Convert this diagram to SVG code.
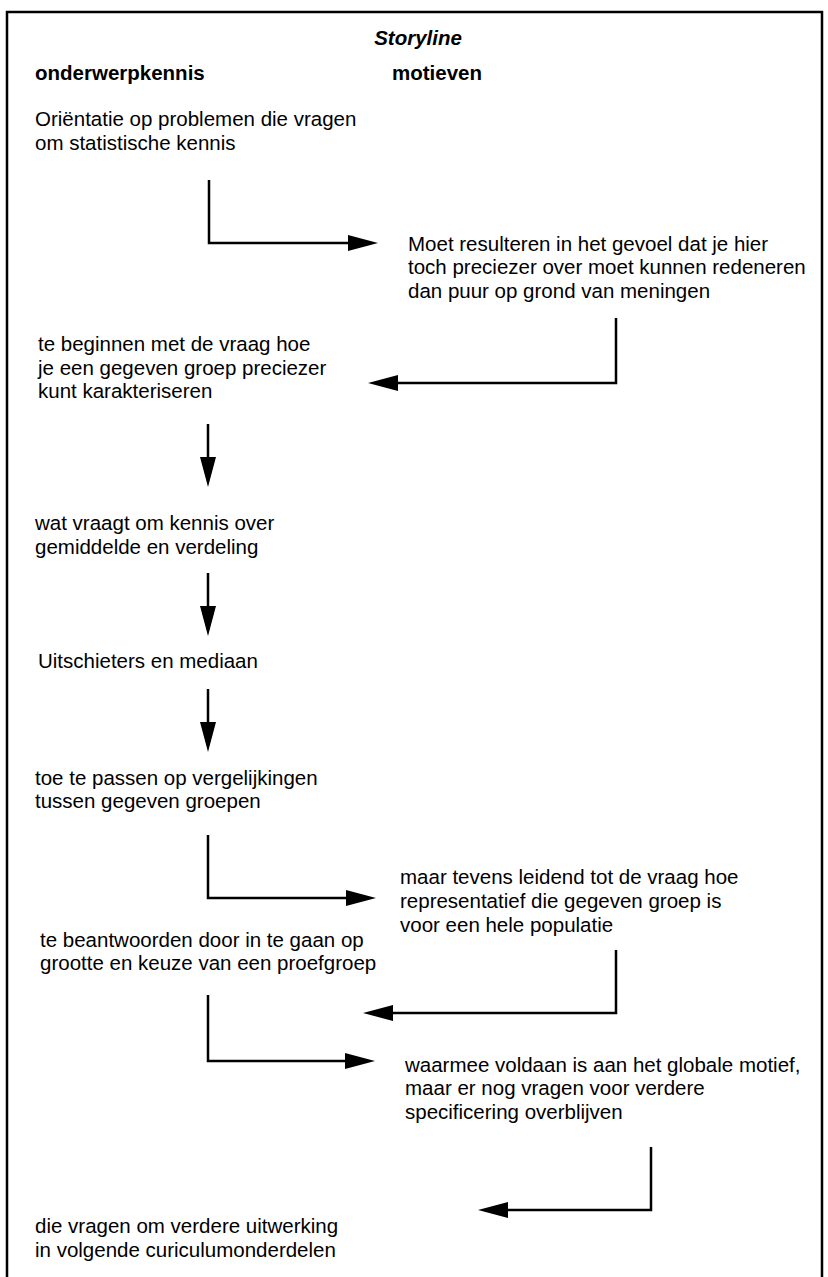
<svg xmlns="http://www.w3.org/2000/svg" width="828" height="1277" viewBox="0 0 828 1277">
<defs>
<style>
.t{font-family:"Liberation Sans",Arial,sans-serif;font-size:20.5px;fill:#000}
.h{font-family:"Liberation Sans",Arial,sans-serif;font-size:20.5px;font-weight:bold;fill:#000}
.ti{font-family:"Liberation Sans",Arial,sans-serif;font-size:20.5px;font-weight:bold;font-style:italic;fill:#000}
.c{fill:none;stroke:#000;stroke-width:2.5}
</style>
<marker id="ah" viewBox="0 0 30 16" refX="0" refY="8" markerWidth="30" markerHeight="16" markerUnits="userSpaceOnUse" orient="auto">
<path d="M0,0 L30,8 L0,16 Z" fill="#000"/>
</marker>
</defs>
<rect width="828" height="1277" fill="#fff"/>
<path d="M7,1277 V12 H822 V1277" fill="none" stroke="#000" stroke-width="2.5"/>
<g id="title"><text class="ti" x="418" y="45" text-anchor="middle">Storyline</text></g>
<g id="headers">
<text class="h" x="35" y="80">onderwerpkennis</text>
<text class="h" x="392" y="80">motieven</text>
</g>
<g id="n1"><text class="t" x="35" y="126">Oriëntatie op problemen die vragen</text><text class="t" x="35" y="150">om statistische kennis</text></g>
<g id="n2"><text class="t" x="408" y="251">Moet resulteren in het gevoel dat je hier</text><text class="t" x="408" y="274">toch preciezer over moet kunnen redeneren</text><text class="t" x="408" y="298">dan puur op grond van meningen</text></g>
<g id="n3"><text class="t" x="38" y="351">te beginnen met de vraag hoe</text><text class="t" x="38" y="375">je een gegeven groep preciezer</text><text class="t" x="38" y="398">kunt karakteriseren</text></g>
<g id="n4"><text class="t" x="35" y="530">wat vraagt om kennis over</text><text class="t" x="35" y="554">gemiddelde en verdeling</text></g>
<g id="n5"><text class="t" x="38" y="668">Uitschieters en mediaan</text></g>
<g id="n6"><text class="t" x="35" y="785">toe te passen op vergelijkingen</text><text class="t" x="35" y="808">tussen gegeven groepen</text></g>
<g id="n7"><text class="t" x="400" y="884">maar tevens leidend tot de vraag hoe</text><text class="t" x="400" y="908">representatief die gegeven groep is</text><text class="t" x="400" y="932">voor een hele populatie</text></g>
<g id="n8"><text class="t" x="40" y="947">te beantwoorden door in te gaan op</text><text class="t" x="40" y="970">grootte en keuze van een proefgroep</text></g>
<g id="n9"><text class="t" x="405" y="1072">waarmee voldaan is aan het globale motief,</text><text class="t" x="405" y="1095">maar er nog vragen voor verdere</text><text class="t" x="405" y="1119">specificering overblijven</text></g>
<g id="n10"><text class="t" x="35" y="1233">die vragen om verdere uitwerking</text><text class="t" x="35" y="1257">in volgende curiculumonderdelen</text></g>
<g id="connectors">
<path class="c" d="M209,180 V243 H348" marker-end="url(#ah)"/>
<path class="c" d="M616,318 V383 H398" marker-end="url(#ah)"/>
<path class="c" d="M208,424 V457" marker-end="url(#ah)"/>
<path class="c" d="M208,573 V606" marker-end="url(#ah)"/>
<path class="c" d="M208,689 V722" marker-end="url(#ah)"/>
<path class="c" d="M208,835 V898 H346" marker-end="url(#ah)"/>
<path class="c" d="M616,950 V1013 H393" marker-end="url(#ah)"/>
<path class="c" d="M208,995 V1061 H345" marker-end="url(#ah)"/>
<path class="c" d="M651,1147 V1210 H508" marker-end="url(#ah)"/>
</g>
</svg>
